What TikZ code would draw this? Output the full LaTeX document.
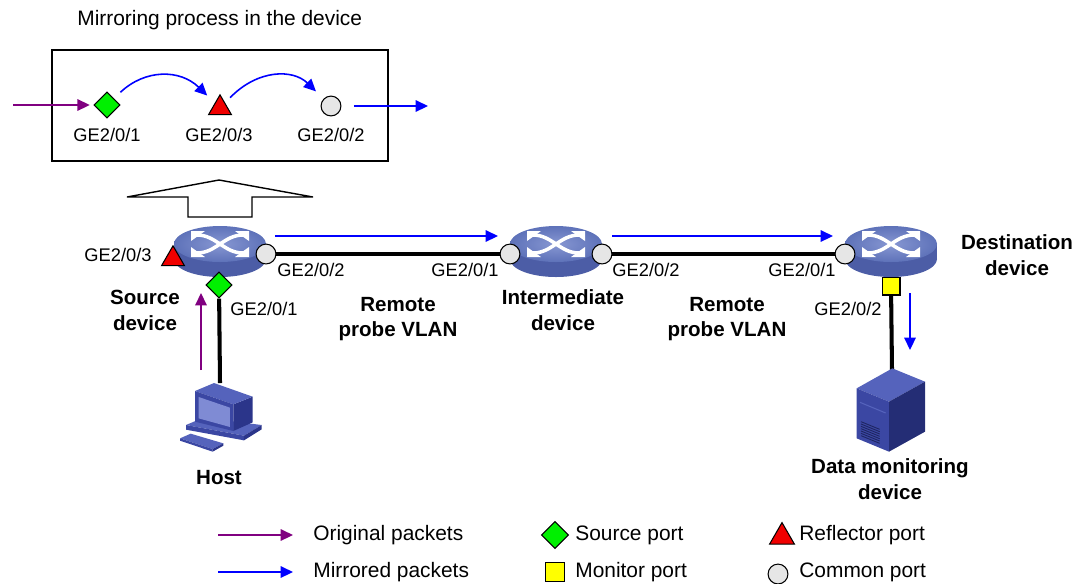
\documentclass[tikz,border=0pt]{standalone}
\usepackage{fontspec}
\setmainfont{Liberation Sans}
\usetikzlibrary{arrows.meta,shapes.geometric,positioning,backgrounds}

\definecolor{origpkt}{HTML}{800080}
\definecolor{mirrpkt}{HTML}{0000FF}
\definecolor{portgray}{HTML}{E6E6E6}
\definecolor{portgreen}{HTML}{00F000}
\definecolor{portred}{HTML}{F00000}
\definecolor{portyellow}{HTML}{FFFF00}
\definecolor{swtop}{HTML}{8797D2}
\definecolor{swtopdk}{HTML}{5E72B9}
\definecolor{swside}{HTML}{4C5DA6}
\definecolor{pcfront}{HTML}{3B47A3}
\definecolor{pctop}{HTML}{5563BC}
\definecolor{pcside}{HTML}{2B358A}
\definecolor{pcscreen}{HTML}{7F8BD4}

\tikzset{
    portlbl/.style={font=\fontsize{10.4}{12.5}\selectfont, inner sep=0pt},
    devlbl/.style={font=\fontsize{11.7}{14.7}\selectfont\bfseries, align=center, inner sep=0pt},
    legtxt/.style={font=\fontsize{11.9}{14}\selectfont, inner sep=0pt, anchor=west},
    link/.style={line width=2.3pt},
    orig/.style={draw=origpkt, line width=0.9pt, -{Triangle[length=7pt,width=6.5pt]}},
    mirr/.style={draw=mirrpkt, line width=0.9pt, -{Triangle[length=7pt,width=6.5pt]}},
    common/.style={circle, draw, fill=portgray, minimum size=11.3pt, inner sep=0pt, line width=0.6pt},
    srcport/.style={diamond, draw, fill=portgreen, minimum size=15pt, inner sep=0pt, line width=0.6pt},
    reflport/.style={regular polygon, regular polygon sides=3, draw, fill=portred, minimum size=15pt, inner sep=0pt, line width=0.6pt},
    monport/.style={rectangle, draw, fill=portyellow, minimum size=10.2pt, inner sep=0pt, line width=0.6pt},
    swicon/.pic={
        \fill[swside] (0,15) ellipse[x radius=46, y radius=18];
        \fill[swside] (-46,0) rectangle (46,15);
        \shade[inner color=swtop, outer color=swtopdk] (0,0) ellipse[x radius=46, y radius=18];
        \foreach \sx in {-1,1}
            \foreach \sy in {-1,1}
                \fill[white] (\sx*29,\sy*13) -- (\sx*15,\sy*13) -- (\sx*29,\sy*3) -- cycle;
        \draw[white, line width=2pt] (-23,-9) .. controls (-4,-9) and (4,9) .. (23,9);
        \draw[white, line width=2pt] (23,-9) .. controls (4,-9) and (-4,9) .. (-23,9);
    }
}

\begin{document}
\begin{tikzpicture}[x=0.02cm, y=-0.02cm]
    \useasboundingbox (0,0) rectangle (1084,583);

    \node[legtxt] (title) at (77,20) {Mirroring process in the device};
    \draw[line width=1.4pt] (52,50) rectangle (388,161);
    \node[srcport] (bxp1) at (107,105) {};
    \node[reflport] (bxp3) at (220,108) {};
    \node[common] (bxp2) at (331,106) {};
    \coordinate (bxin) at (13,105);
    \coordinate (bxout) at (428,106);
    \draw[orig, shorten >=2pt] (bxin) -- (bxp1);
    \draw[mirr, shorten <=7pt] (bxp2) -- (bxout);
    \draw[mirr, shorten <=5pt, shorten >=6pt] (bxp1) .. controls (145,69) and (180,69) .. (bxp3);
    \draw[mirr, shorten <=4pt, shorten >=6pt] (bxp3) .. controls (258,69) and (293,69) .. (bxp2);
    \node[portlbl] at (107,135) {GE2/0/1};
    \node[portlbl] at (219,135) {GE2/0/3};
    \node[portlbl] at (331,135) {GE2/0/2};

    \draw[line width=0.8pt, fill=white] (188,217) -- (188,197) -- (127,197) -- (219,180)
        -- (313,197) -- (252,197) -- (252,217) -- cycle;

    \coordinate (srcsw) at (220,244);
    \coordinate (midsw) at (556,244);
    \coordinate (dstsw) at (891,244);
    \pic at (srcsw) {swicon};
    \pic at (midsw) {swicon};
    \pic at (dstsw) {swicon};

    \node[reflport] (srcp3) at (173,259) {};
    \node[common] (srcp2) at (266,254) {};
    \node[srcport] (srcp1) at (219,285) {};
    \node[common] (midp1) at (510,254) {};
    \node[common] (midp2) at (602,254) {};
    \node[common] (dstp1) at (845,254) {};
    \node[monport] (dstp2) at (891,286) {};
    \coordinate (hosttop) at (220,383);
    \coordinate (srvtop) at (892,370);

    \begin{pgfonlayer}{background}
        \draw[link] (srcp2) -- (midp1);
        \draw[link] (midp2) -- (dstp1);
        \draw[link] (srcp1) -- (hosttop);
        \draw[link] (dstp2) -- (srvtop);
    \end{pgfonlayer}

    \draw[mirr] ([shift={(9,-18)}]srcp2.center) -- ([shift={(-12,-18)}]midp1.center);
    \draw[mirr] ([shift={(10,-18)}]midp2.center) -- ([shift={(-12,-18)}]dstp1.center);
    \draw[orig] ([shift={(-18,85)}]srcp1.center) -- ([shift={(-18,8)}]srcp1.center);
    \draw[mirr] ([shift={(19,7)}]dstp2.center) -- ([shift={(19,64)}]dstp2.center);

    \begin{scope}[shift={(170,375)}, scale=0.3333, line join=round]
        \fill[pctop] (48,150) -- (100,128) -- (275,150) -- (222,182) -- cycle;
        \fill[pcfront] (48,150) -- (222,182) -- (222,196) -- (48,164) -- cycle;
        \fill[pcside] (222,182) -- (275,150) -- (275,163) -- (222,196) -- cycle;
        \fill[pcside] (190,88) -- (248,65) -- (248,142) -- (190,168) -- cycle;
        \fill[pctop] (75,48) -- (132,24) -- (248,65) -- (190,88) -- cycle;
        \fill[pcfront] (75,48) -- (190,88) -- (190,168) -- (75,140) -- cycle;
        \fill[pcscreen] (86,66) -- (180,98) -- (180,156) -- (86,130) -- cycle;
        \fill[pctop] (30,190) -- (62,176) -- (160,205) -- (128,222) -- cycle;
        \fill[pcfront] (30,190) -- (128,222) -- (128,230) -- (30,197) -- cycle;
        \fill[pcside] (128,222) -- (160,205) -- (160,212) -- (128,230) -- cycle;
    \end{scope}

    \begin{scope}[shift={(845,355)}, scale=0.3333, line join=round]
        \fill[pctop] (35,100) -- (142,40) -- (240,80) -- (132,140) -- cycle;
        \fill[pcfront] (35,100) -- (132,140) -- (132,290) -- (35,250) -- cycle;
        \fill[pcside!85!black] (132,140) -- (240,80) -- (240,230) -- (132,290) -- cycle;
        \foreach \v in {0,...,6}
            \draw[pcside!70!black, line width=0.5pt] (48,200+\v*7) -- (104,223+\v*7);
        \draw[pctop, line width=0.6pt] (45,142) -- (122,174);
    \end{scope}

    \node[portlbl] at (118,255) {GE2/0/3};
    \node[portlbl] at (311,270) {GE2/0/2};
    \node[portlbl] at (264,309) {GE2/0/1};
    \node[devlbl] (srcname) at (145,310) {Source\\device};
    \node[devlbl] at (398,319) {Remote\\probe VLAN};
    \node[portlbl] at (465,270) {GE2/0/1};
    \node[devlbl] (midname) at (563,310) {Intermediate\\device};
    \node[portlbl] at (646,270) {GE2/0/2};
    \node[devlbl] at (727,319) {Remote\\probe VLAN};
    \node[portlbl] at (802,270) {GE2/0/1};
    \node[devlbl] (dstname) at (1017,255) {Destination\\device};
    \node[portlbl] at (848,309) {GE2/0/2};
    \node[devlbl] (srvname) at (890,479) {Data monitoring\\device};
    \node[devlbl] (hostname) at (219,478) {Host};

    \coordinate (lg1) at (218,535);
    \coordinate (lg1e) at (293,535);
    \coordinate (lg2) at (218,572);
    \coordinate (lg2e) at (293,572);
    \draw[orig] (lg1) -- (lg1e);
    \draw[mirr] (lg2) -- (lg2e);
    \node[legtxt] at (313,535) {Original packets};
    \node[legtxt] at (313,572) {Mirrored packets};
    \node[srcport, minimum size=15.5pt] (lgsrc) at (555,535) {};
    \node[legtxt] at (575,535) {Source port};
    \node[monport, minimum size=11pt] (lgmon) at (555,572) {};
    \node[legtxt] at (575,572) {Monitor port};
    \node[reflport, minimum size=16.4pt] (lgrefl) at (782,537) {};
    \node[legtxt] at (799,535) {Reflector port};
    \node[common] (lgcom) at (778,574) {};
    \node[legtxt] at (799,572) {Common port};
\end{tikzpicture}
\end{document}
